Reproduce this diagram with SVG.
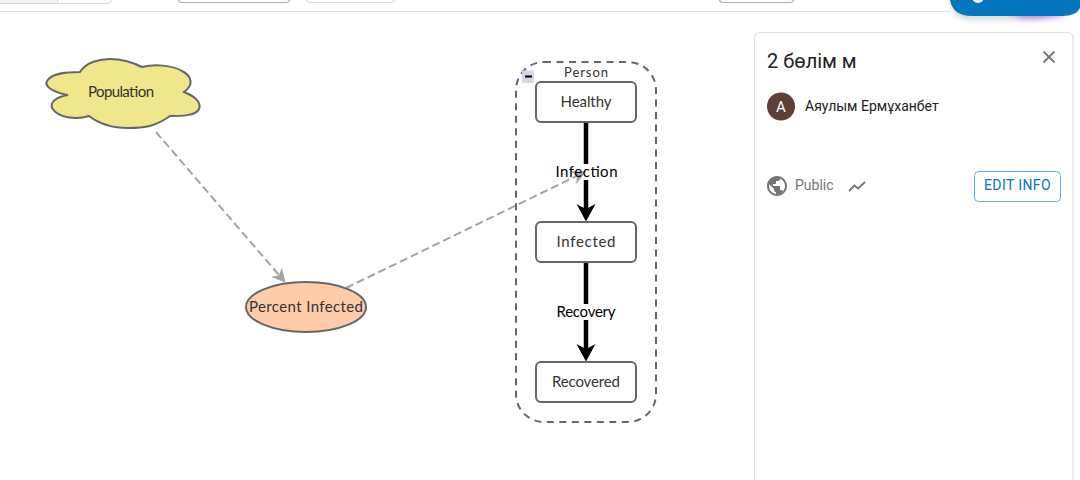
<svg xmlns="http://www.w3.org/2000/svg" width="1080" height="480" viewBox="0 0 1080 480">
<style>
.node{stroke:#666;stroke-width:2}
.box{fill:#fff}
.lbl{font-family:"Lato","Noto Sans",sans-serif;font-size:15px;text-anchor:middle;fill:#333}
.elbl{font-family:"Lato","Noto Sans",sans-serif;font-size:15px;text-anchor:middle;fill:#000}
.dep{fill:none;stroke:#a3a3a3;stroke-width:2;stroke-dasharray:8 4}
.flow{fill:none;stroke:#000;stroke-width:4.500}
.ui{font-family:"Roboto","Liberation Sans",sans-serif}
.bar{fill:none;stroke-width:1.2}
</style>
<defs>
<filter id="blur" x="-20%" y="-100%" width="140%" height="300%"><feGaussianBlur stdDeviation="3"/></filter>
<marker id="ah" markerUnits="userSpaceOnUse" markerWidth="20" markerHeight="20" refX="6" refY="7" orient="auto"><path d="M0 0L14 7L0 14L4 7Z" fill="#a3a3a3"/></marker>
<marker id="ab" markerUnits="userSpaceOnUse" markerWidth="24" markerHeight="24" refX="6" refY="10" orient="auto"><path d="M0 .5L17.500 10L0 19.500L5 10Z" fill="#000"/></marker>
</defs>
<rect width="1080" height="480" fill="#fff"/>
<g id="toolbar">
<rect x="0" y="0" width="58" height="3.500" fill="#f0f1f3"/>
<path class="bar" stroke="#ddd" d="M0 3.500H107Q111 3.500 111 0M58 0V3.500"/>
<path class="bar" stroke="#9db4bc" d="M178.500 0Q179 2.500 182 2.500H286Q289 2.500 289.500 0"/>
<path class="bar" stroke="#ddd" d="M306.500 0Q307 2.500 310 2.500H391Q394 2.500 394.500 0"/>
<path class="bar" stroke="#9db4bc" d="M719.500 0Q720 2.500 723 2.500H790Q793 2.500 793.500 0"/>
<path d="M0 11.500H950" stroke="#dfe1e3" stroke-width="1.200" fill="none"/>
</g>
<g id="chat-button">
<rect x="1010" y="-14" width="58" height="32" rx="15" fill="#c060e0" opacity=".7" filter="url(#blur)"/>
<rect x="952" y="-14" width="100" height="33" rx="15" fill="#666" opacity=".3" filter="url(#blur)"/>
<path d="M950 0Q953 16 972 16H1062Q1076 16 1080 8V0Z" fill="#0277bd"/>
<circle cx="978" cy="-3" r="6" fill="#fff"/>
</g>
<g id="connectors">
<path class="dep" d="M156 132L280.400 276.700" marker-end="url(#ah)"/>
<path class="dep" d="M346 288L578.700 175" marker-end="url(#ah)"/>
<path class="flow" d="M586 122V164M586 180V210" marker-end="url(#ab)"/>
<path class="flow" d="M586 262V304M586 320V350" marker-end="url(#ab)"/>
</g>
<g id="population">
<path class="node" fill="#f0e68c" d="M80 72C86 62 100 59 110 59C122 59 134 63 142 67C154 64 172 65 182 71C192 76 194 85 184 92C194 96 202 102 199 109C196 116 180 116 170 116C156 126 146 128 128 128C112 128 98 123 89 116C76 120 58 118 52 108C50 102 56 97 68 95C52 92 44 86 47 81C52 73 66 72 80 72Z"/>
<text class="lbl" x="121" y="97" textLength="66">Population</text>
</g>
<g id="percent-infected">
<ellipse class="node" cx="306" cy="307" rx="60" ry="25" fill="#ffccaa"/>
<text class="lbl" x="306" y="312" textLength="114">Percent Infected</text>
</g>
<g id="person">
<rect x="516" y="62" width="140" height="360" rx="28" fill="none" stroke="#666" stroke-width="2" stroke-dasharray="7 5.500"/>
<rect x="522" y="70.500" width="12" height="12.500" rx="1" fill="#d6d6e6"/>
<rect x="525" y="75.500" width="7" height="2" fill="#000"/>
<text class="lbl" x="586" y="77" style="font-size:13px" textLength="44">Person</text>
</g>
<g id="healthy">
<rect class="node box" x="536" y="82" width="100" height="40" rx="5"/>
<text class="lbl" x="586" y="107" textLength="51">Healthy</text>
</g>
<g id="infected">
<rect class="node box" x="536" y="222" width="100" height="40" rx="5"/>
<text class="lbl" x="586" y="247" textLength="59">Infected</text>
</g>
<g id="recovered">
<rect class="node box" x="536" y="362" width="100" height="40" rx="5"/>
<text class="lbl" x="586" y="387" textLength="68">Recovered</text>
</g>
<g id="edge-labels">
<text class="elbl" x="586.500" y="177" textLength="62">Infection</text>
<text class="elbl" x="586" y="317" textLength="59">Recovery</text>
</g>
<g id="info-panel">
<path d="M754.500 480V38.500Q754.500 32.500 760.500 32.500H1067Q1073 32.500 1073 38.500V480" fill="#fff" stroke="#e0e0e0" stroke-width="1.200"/>
<text class="ui" x="767" y="68" font-size="20" fill="#212121">2 бөлім м</text>
<path d="M1043.500 51.500L1054.500 62.500M1054.500 51.500L1043.500 62.500" stroke="#757575" stroke-width="1.800" fill="none"/>
<circle cx="781" cy="106.500" r="14" fill="#5d4037"/>
<text class="ui" x="781" y="112" font-size="15" fill="#fff" text-anchor="middle">A</text>
<text class="ui" x="805" y="111" font-size="14" fill="#212121">Аяулым Ермұханбет</text>
<path transform="translate(765 174)" fill="#757575" d="M12 2C6.480 2 2 6.480 2 12s4.480 10 10 10 10-4.480 10-10S17.520 2 12 2zm-1 17.930c-3.950-.490-7-3.850-7-7.930 0-.620.080-1.210.210-1.790L9 15v1c0 1.100.900 2 2 2v1.930zm6.900-2.540c-.260-.810-1-1.390-1.900-1.390h-1v-3c0-.550-.450-1-1-1H8v-2h2c.550 0 1-.450 1-1V7h2c1.100 0 2-.900 2-2v-.410c2.930 1.190 5 4.060 5 7.410 0 2.080-.800 3.970-2.100 5.390z"/>
<text class="ui" x="795" y="190" font-size="14" fill="#757575">Public</text>
<path d="M849 191L854.500 185.500L858 188.500L865 182" fill="none" stroke="#757575" stroke-width="1.800"/>
<rect x="974.500" y="171.500" width="86" height="30" rx="4" fill="#fff" stroke="#64b0de" stroke-width="1"/>
<text class="ui" x="1017.500" y="190" font-size="14" fill="#0277bd" text-anchor="middle" letter-spacing=".4">EDIT INFO</text>
</g>
</svg>
